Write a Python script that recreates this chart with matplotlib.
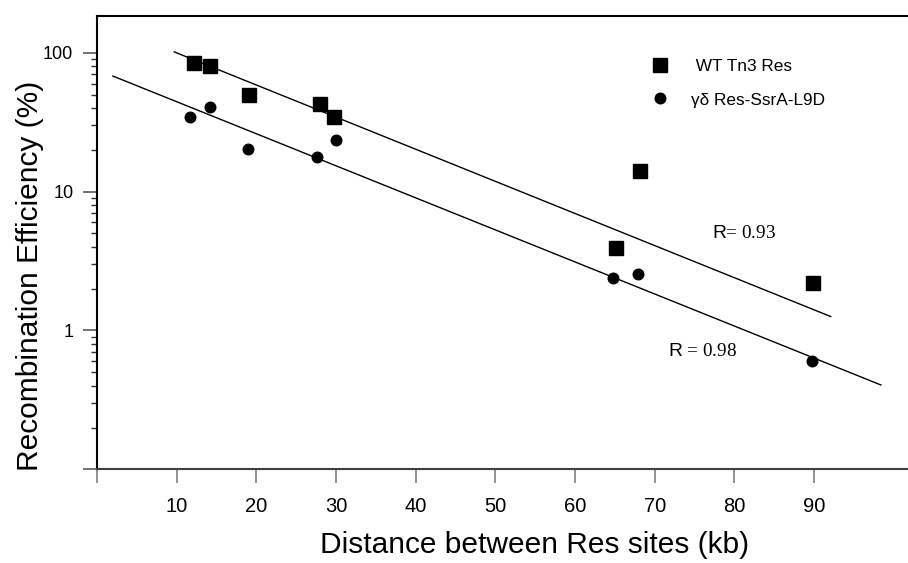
import matplotlib.pyplot as plt
from matplotlib.ticker import NullFormatter

plt.rcParams['font.family'] = ['Liberation Sans', 'DejaVu Sans']
plt.rcParams['mathtext.fontset'] = 'custom'
plt.rcParams['mathtext.sf'] = 'Liberation Sans'

# WT Tn3 Res (squares)
wt_dist = [12.2, 14.2, 19.1, 28.0, 29.8, 65.2, 68.2, 89.9]
wt_eff = [84, 80, 50, 43, 34.5, 3.9, 14.1, 2.2]

# gamma-delta Res-SsrA-L9D (circles)
gd_dist = [11.7, 14.2, 18.9, 27.6, 30.0, 64.8, 67.9, 89.8]
gd_eff = [34.3, 41, 20.3, 17.8, 23.5, 2.4, 2.55, 0.6]

# end points of the exponential fits
wt_fit_x = [9.7, 92.1]
wt_fit_y = [101.5, 1.26]
gd_fit_x = [2.0, 98.4]
gd_fit_y = [68, 0.405]

xticks = [0, 10, 20, 30, 40, 50, 60, 70, 80, 90]
xticklabels = [''] + [str(t) for t in xticks[1:]]
yticks = [0.1, 1, 10, 100]
yticklabels = ['', '1', '10', '100']


def main():
    fig = plt.figure(figsize=(9.08, 5.63), dpi=100)
    ax = fig.add_axes([0.1068, 0.1664, 0.8932, 0.8057])

    ax.plot(wt_fit_x, wt_fit_y, color='k', lw=1.0)
    ax.plot(gd_fit_x, gd_fit_y, color='k', lw=1.0)
    sq, = ax.plot(wt_dist, wt_eff, ls='none', marker='s', ms=9.6,
                  color='k', label=' WT Tn3 Res')
    ci, = ax.plot(gd_dist, gd_eff, ls='none', marker='o', ms=7.6,
                  color='k', label='γδ Res-SsrA-L9D')

    ax.set_yscale('log')
    ax.set_xlim(0, 101.8)
    ax.set_ylim(0.1, 185)
    ax.set_xticks(xticks)
    ax.set_xticklabels(xticklabels)
    ax.set_yticks(yticks)
    ax.set_yticklabels(yticklabels)
    ax.yaxis.set_minor_formatter(NullFormatter())

    ax.tick_params(axis='x', which='major', direction='out', length=10,
                   width=1.2, color='0.5', labelsize=14.5, pad=10)
    ax.tick_params(axis='y', which='major', direction='out', length=10,
                   width=1.4, color='0.45', labelsize=13, pad=7)
    ax.tick_params(axis='y', which='minor', direction='out', length=4.3,
                   width=1.0, color='0.2')
    ax.xaxis.get_major_ticks()[0].tick1line.set_color('k')

    ax.spines['right'].set_visible(False)
    for s in ['left', 'top', 'bottom']:
        ax.spines[s].set_linewidth(1.5)
    ax.spines['bottom'].set_color('0.25')

    ax.text(77.2, 4.96, r'$\mathsf{R}$= 0.93', family='Liberation Serif',
            fontsize=13.8, ha='left', va='center')
    ax.text(71.7, 0.711, r'$\mathsf{R}$ = 0.98', family='Liberation Serif',
            fontsize=13.8, ha='left', va='center')

    ax.legend(handles=[sq, ci], loc='upper left', bbox_to_anchor=(0.683, 0.9046),
              frameon=False, fontsize=12.4, numpoints=1, handlelength=1.0,
              handletextpad=1.3, labelspacing=1.07, borderpad=0,
              borderaxespad=0)

    fig.text(30 / 908, 1 - 276 / 563, 'Recombination Efficiency (%)',
             rotation=90, ha='center', va='center', fontsize=21.5)
    fig.text(535 / 908, 1 - 545 / 563, 'Distance between Res sites (kb)',
             ha='center', va='center', fontsize=21.5)

    fig.savefig('out.png', dpi=100)


if __name__ == '__main__':
    main()
